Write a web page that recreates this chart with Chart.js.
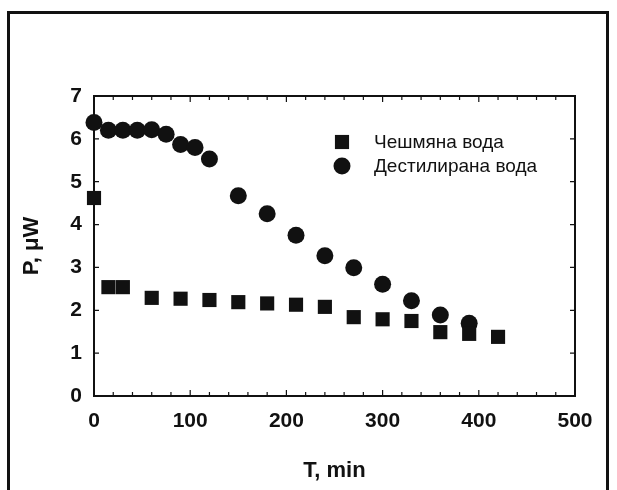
<!DOCTYPE html>
<html>
<head>
<meta charset="utf-8">
<script src="https://cdn.jsdelivr.net/npm/chart.js@4"></script>
<style>
    html, body { margin: 0; padding: 0; background: #fff; }
    #wrap { position: relative; width: 617px; height: 490px; overflow: hidden; }
    #frame {
        position: absolute; left: 7px; top: 11px; width: 596px; height: 500px;
        border-left: 3px solid #111; border-top: 3px solid #111; border-right: 3px solid #111;
    }
    canvas { position: absolute; left: 0; top: 0; }
</style>
</head>
<body>
<div id="wrap">
    <div id="frame"></div>
    <canvas id="chart" width="617" height="490"></canvas>
</div>
<script>
// Data
const timeTap = [0, 15, 30, 60, 90, 120, 150, 180, 210, 240, 270, 300, 330, 360, 390, 420];
const powerTap = [4.62, 2.54, 2.54, 2.29, 2.27, 2.24, 2.19, 2.16, 2.13, 2.08, 1.84, 1.79, 1.75, 1.49, 1.45, 1.38];
const timeDist = [0, 15, 30, 45, 60, 75, 90, 105, 120, 150, 180, 210, 240, 270, 300, 330, 360, 390];
const powerDist = [6.38, 6.2, 6.2, 6.2, 6.21, 6.11, 5.87, 5.8, 5.53, 4.67, 4.25, 3.75, 3.27, 2.99, 2.61, 2.22, 1.89, 1.70];

const seriesLabels = ['Чешмяна вода', 'Дестилирана вода'];
const xTicks = [0, 100, 200, 300, 400, 500];
const yTicks = [0, 1, 2, 3, 4, 5, 6, 7];

const FONT = "'Liberation Sans', Arial, sans-serif";
const INK = '#111';

// Box around the plot with inward tick marks, plus the legend
const framePlugin = {
    id: 'frame',
    afterDatasetsDraw(chart) {
        const { ctx, chartArea: a, scales } = chart;
        ctx.save();
        ctx.strokeStyle = INK;
        ctx.lineWidth = 2;
        ctx.strokeRect(a.left, a.top, a.right - a.left, a.bottom - a.top);

        ctx.lineWidth = 1.2;
        ctx.beginPath();
        for (let v = 0; v <= 500; v += 20) {
            const x = scales.x.getPixelForValue(v);
            const len = v % 100 === 0 ? 6 : 4;
            ctx.moveTo(x, a.bottom); ctx.lineTo(x, a.bottom - len);
            ctx.moveTo(x, a.top); ctx.lineTo(x, a.top + len);
        }
        yTicks.forEach(v => {
            const y = scales.y.getPixelForValue(v);
            ctx.moveTo(a.left, y); ctx.lineTo(a.left + 5, y);
            ctx.moveTo(a.right, y); ctx.lineTo(a.right - 5, y);
        });
        ctx.stroke();

        // legend
        ctx.fillStyle = INK;
        ctx.font = '19px ' + FONT;
        ctx.textBaseline = 'middle';
        chart.data.datasets.forEach((ds, i) => {
            const y = 142 + i * 24;
            Chart.helpers.drawPoint(ctx, {
                pointStyle: ds.pointStyle, radius: ds.pointRadius, rotation: 0, borderWidth: 0
            }, 342, y);
            ctx.fillStyle = INK;
            ctx.fillText(ds.label, 374, y + 1);
        });
        ctx.restore();
    }
};

const toPoints = (xs, ys) => xs.map((x, i) => ({ x: x, y: ys[i] }));

new Chart(document.getElementById('chart'), {
    type: 'scatter',
    data: {
        datasets: [{
            label: seriesLabels[0],
            data: toPoints(timeTap, powerTap),
            pointStyle: 'rect',
            pointRadius: 10,
            backgroundColor: INK,
            borderColor: INK,
            borderWidth: 0,
            clip: false
        }, {
            label: seriesLabels[1],
            data: toPoints(timeDist, powerDist),
            pointStyle: 'circle',
            pointRadius: 8.5,
            backgroundColor: INK,
            borderColor: INK,
            borderWidth: 0,
            clip: false
        }]
    },
    options: {
        responsive: false,
        animation: false,
        layout: { padding: { top: 96, right: 42, bottom: 0, left: 0 } },
        plugins: {
            legend: { display: false },
            tooltip: { enabled: false }
        },
        scales: {
            x: {
                type: 'linear',
                min: 0,
                max: 500,
                afterBuildTicks: s => { s.ticks = xTicks.map(v => ({ value: v })); },
                afterFit: s => { s.height = 94; },
                grid: { display: false, drawTicks: false },
                border: { display: false },
                ticks: { color: INK, padding: 13, font: { family: FONT, size: 21, weight: 'bold' } },
                title: {
                    display: true,
                    text: 'T, min',
                    color: INK,
                    padding: { top: 0, bottom: 6 },
                    font: { family: FONT, size: 22, weight: 'bold' }
                }
            },
            y: {
                type: 'linear',
                min: 0,
                max: 7,
                afterBuildTicks: s => { s.ticks = yTicks.map(v => ({ value: v })); },
                afterFit: s => { s.width = 94; },
                grid: { display: false, drawTicks: false },
                border: { display: false },
                ticks: { color: INK, padding: 12, font: { family: FONT, size: 21, weight: 'bold' } },
                title: {
                    display: true,
                    text: 'P, μW',
                    color: INK,
                    padding: { top: 19, bottom: 0 },
                    font: { family: FONT, size: 22, weight: 'bold' }
                }
            }
        }
    },
    plugins: [framePlugin]
});
</script>
</body>
</html>
